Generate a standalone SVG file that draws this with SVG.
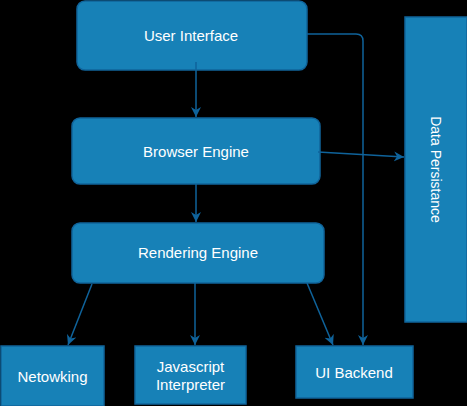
<svg xmlns="http://www.w3.org/2000/svg" width="467" height="406" viewBox="0 0 467 406">
<defs>
<marker id="arr" markerUnits="userSpaceOnUse" markerWidth="11" markerHeight="11" refX="10" refY="5.5" orient="auto">
<path d="M0,0.5 L10,5.5 L0,10.5 L3,5.5 Z" fill="#0f639b"/>
</marker>
<style>
.box{fill:#1781b7;stroke:#10649b;stroke-width:1.5}
.lbl{fill:#ffffff;font-family:"Liberation Sans",Arial,sans-serif;font-size:15px;text-anchor:middle}
.edge{fill:none;stroke:#0f639b;stroke-width:1.5;marker-end:url(#arr)}
</style>
</defs>
<rect x="0" y="0" width="467" height="406" fill="#000000"/>
<g id="ui">
<rect class="box" x="77" y="1" width="230" height="69" rx="8"/>
<text class="lbl" x="191" y="41">User Interface</text>
</g>
<g id="be">
<rect class="box" x="72" y="118" width="248" height="66" rx="8"/>
<text class="lbl" x="196" y="157">Browser Engine</text>
</g>
<g id="re">
<rect class="box" x="72" y="223" width="252" height="60" rx="8"/>
<text class="lbl" x="198" y="258">Rendering Engine</text>
</g>
<g id="dp">
<rect class="box" x="405" y="17" width="62" height="305"/>
<text class="lbl" style="font-size:14px" transform="translate(431,169.5) rotate(90)" x="0" y="0">Data Persistance</text>
</g>
<g id="net">
<rect class="box" x="1" y="346" width="103" height="60"/>
<text class="lbl" x="52.5" y="382">Netowking</text>
</g>
<g id="js">
<rect class="box" x="135" y="346" width="111" height="58"/>
<text class="lbl" x="190.5" y="372">Javascript</text>
<text class="lbl" x="190.5" y="390">Interpreter</text>
</g>
<g id="uib">
<rect class="box" x="296" y="346" width="117" height="52"/>
<text class="lbl" x="354" y="378">UI Backend</text>
</g>
<g id="connectors">
<path class="edge" d="M196,62 L196,117"/>
<path class="edge" d="M307,34 L356,34 Q363,34 363,41 L363,345"/>
<path class="edge" d="M318,152 L404,157"/>
<path class="edge" d="M196,184 L196,222"/>
<path class="edge" d="M92,284 L68,345"/>
<path class="edge" d="M195,283 L195,345"/>
<path class="edge" d="M307,283 L333,345"/>
</g>
</svg>
